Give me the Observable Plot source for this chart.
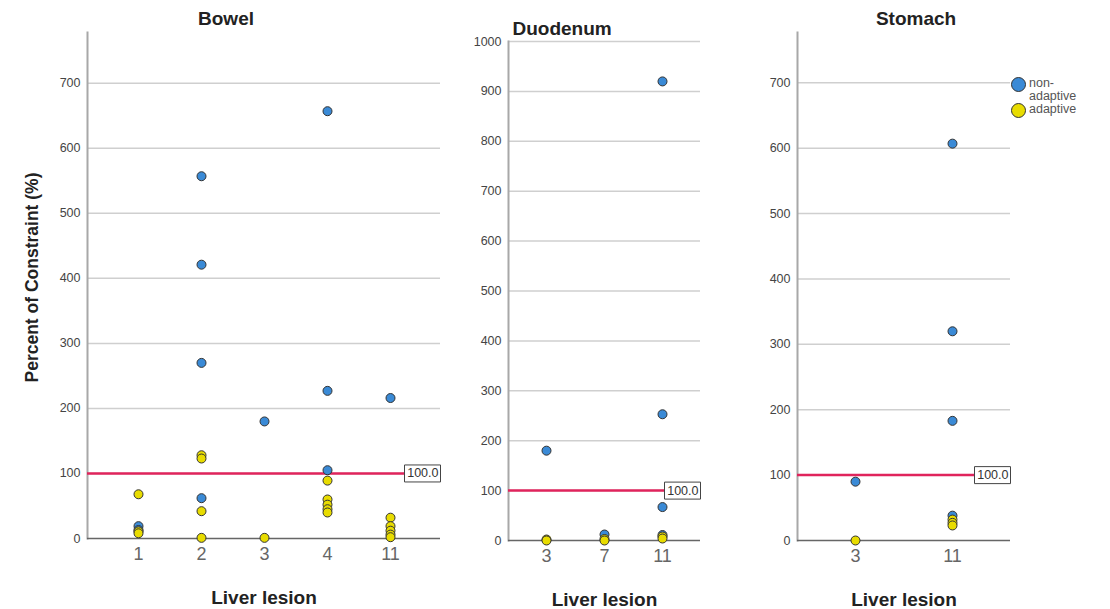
<!DOCTYPE html>
<html>
<head>
<meta charset="utf-8">
<script src="https://cdn.jsdelivr.net/npm/d3@7"></script>
<script src="https://cdn.jsdelivr.net/npm/@observablehq/plot@0.6"></script>
<style>
  body { margin: 0; background: #fff; }
  #wrap { position: relative; width: 1110px; height: 609px; overflow: hidden; background: #fff; font-family: "Liberation Sans", Arial, sans-serif; }
  #wrap svg { position: absolute; top: 0; }
  .lg { position: absolute; left: 1011px; font-size: 12.5px; color: #555; line-height: 12.5px; display: flex; align-items: flex-start; }
  .lg .c { width: 13px; height: 13px; border-radius: 50%; border: 1.5px solid #333; margin-right: 3px; flex: none; }
</style>
</head>
<body>
<div id="wrap"></div>
<script>
// ---- data ----
const seriesNames = ["non-adaptive", "adaptive"];
const seriesColors = ["#3a8ad6", "#e8dc00"];

const bowelLesions = ["1", "2", "3", "4", "11"];
const bowelNonLesion = ["1", "1", "2", "2", "2", "2", "3", "4", "4", "4", "11"];
const bowelNonValue  = [19, 13, 557, 421, 270, 62, 180, 657, 227, 105, 216];
const bowelAdLesion  = ["1", "1", "1", "2", "2", "2", "2", "3", "4", "4", "4", "4", "4", "11", "11", "11", "11", "11"];
const bowelAdValue   = [68, 11, 8, 128, 123, 42, 1, 1, 89, 60, 52, 45, 40, 32, 19, 12, 6, 2];

const duoLesions = ["3", "7", "11"];
const duoNonLesion = ["3", "7", "11", "11", "11", "11"];
const duoNonValue  = [180, 12, 920, 253, 67, 11];
const duoAdLesion  = ["3", "3", "7", "7", "11", "11"];
const duoAdValue   = [2, 0, 3, 0, 8, 4];

const stoLesions = ["3", "11"];
const stoNonLesion = ["3", "11", "11", "11", "11"];
const stoNonValue  = [90, 607, 320, 183, 38];
const stoAdLesion  = ["3", "11", "11", "11"];
const stoAdValue   = [0, 32, 27, 23];

const constraintLine = [100];
const constraintLabel = "100.0";
const ticks700 = [0, 100, 200, 300, 400, 500, 600, 700];
const ticks1000 = [0, 100, 200, 300, 400, 500, 600, 700, 800, 900, 1000];

const xTitle = "Liver lesion";
const yTitle = "Percent of Constraint (%)";

// ---- helpers ----
const rows = (lesions, values) => lesions.map((l, i) => ({lesion: l, value: values[i]}));
const boxSymbol = {draw(ctx) { ctx.rect(-18, -8.5, 36, 17); }};

function panel({title, titleOpts, lesions, non, ad, yDomain, yTicks, left, width, m, pad, withYTitle}) {
  const marks = [
    Plot.gridY(yTicks.filter(d => d > 0), {stroke: "#cfcfcf", strokeOpacity: 1, strokeWidth: 1.5}),
    Plot.frame({anchor: "left", stroke: "#a8a8a8", strokeWidth: 2}),
    Plot.ruleY([0], {stroke: "#666", strokeWidth: 1.5}),
    Plot.axisY({ticks: yTicks, tickSize: 0, tickPadding: 7, fontSize: 12.5, color: "#444", label: null, tickFormat: d => String(d)}),
    Plot.axisX({tickSize: 0, tickPadding: 9, fontSize: 18, color: "#666", label: null, fontFamily: "'Liberation Sans Narrow', 'Liberation Sans', Arial, sans-serif"}),
    Plot.ruleY(constraintLine, {stroke: "#e0245c", strokeWidth: 2.5}),
    Plot.dot(constraintLine, {y: d => d, frameAnchor: "right", dx: -18, symbol: boxSymbol, r: 5, fill: "white", stroke: "#444", strokeWidth: 1}),
    Plot.text(constraintLine, {y: d => d, text: () => constraintLabel, frameAnchor: "right", textAnchor: "end", dx: -2, fontSize: 12.5, fill: "#333"}),
    Plot.dot(rows(non.l, non.v), {x: "lesion", y: "value", r: 4.5, fill: seriesColors[0], stroke: "#333", strokeWidth: 1}),
    Plot.dot(rows(ad.l, ad.v), {x: "lesion", y: "value", r: 4.5, fill: seriesColors[1], stroke: "#333", strokeWidth: 1}),
    Plot.text([title], {text: d => d, fontSize: 19, fontWeight: "bold", fill: "#222", lineAnchor: "middle", ...titleOpts}),
    Plot.text([xTitle], {text: d => d, frameAnchor: "bottom", lineAnchor: "middle", dy: 59, fontSize: 19, fontWeight: "bold", fill: "#222"})
  ];
  if (withYTitle) marks.push(Plot.text([yTitle], {text: d => d, frameAnchor: "left", textAnchor: "middle", lineAnchor: "middle", dx: -55, dy: -8, rotate: -90, fontSize: 17.5, fontWeight: "bold", fill: "#222"}));
  const svg = Plot.plot({
    width, height: 609,
    marginLeft: m[0], marginRight: m[1], marginTop: m[2], marginBottom: m[3],
    style: {fontFamily: "'Liberation Sans', Arial, sans-serif", background: "transparent", overflow: "visible"},
    x: {type: "point", domain: lesions, padding: pad, axis: null},
    y: {domain: yDomain, axis: null},
    marks
  });
  svg.style.left = left + "px";
  return svg;
}

const wrap = document.getElementById("wrap");
wrap.appendChild(panel({
  title: "Bowel", titleOpts: {frameAnchor: "top", dx: -38, dy: -14},
  lesions: bowelLesions, non: {l: bowelNonLesion, v: bowelNonValue}, ad: {l: bowelAdLesion, v: bowelAdValue},
  yDomain: [0, 778], yTicks: ticks700, left: 0, width: 460, m: [87, 20, 32, 71], pad: 0.79, withYTitle: true
}));
wrap.appendChild(panel({
  title: "Duodenum", titleOpts: {frameAnchor: "top-left", textAnchor: "start", dx: 4, dy: -13},
  lesions: duoLesions, non: {l: duoNonLesion, v: duoNonValue}, ad: {l: duoAdLesion, v: duoAdValue},
  yDomain: [0, 1000], yTicks: ticks1000, left: 460, width: 280, m: [48, 40, 41, 69], pad: 0.63
}));
wrap.appendChild(panel({
  title: "Stomach", titleOpts: {frameAnchor: "top", dx: 12, dy: -14},
  lesions: stoLesions, non: {l: stoNonLesion, v: stoNonValue}, ad: {l: stoAdLesion, v: stoAdValue},
  yDomain: [0, 777], yTicks: ticks700, left: 740, width: 370, m: [57, 100, 32, 69], pad: 0.59
}));

// legend
const tops = [77, 103];
seriesNames.forEach((name, i) => {
  const d = document.createElement("div");
  d.className = "lg";
  d.style.top = tops[i] + "px";
  const c = document.createElement("span");
  c.className = "c";
  c.style.background = seriesColors[i];
  const t = document.createElement("span");
  t.innerHTML = name === "non-adaptive" ? "non-<br>adaptive" : name;
  d.appendChild(c); d.appendChild(t);
  wrap.appendChild(d);
});
</script>
</body>
</html>
